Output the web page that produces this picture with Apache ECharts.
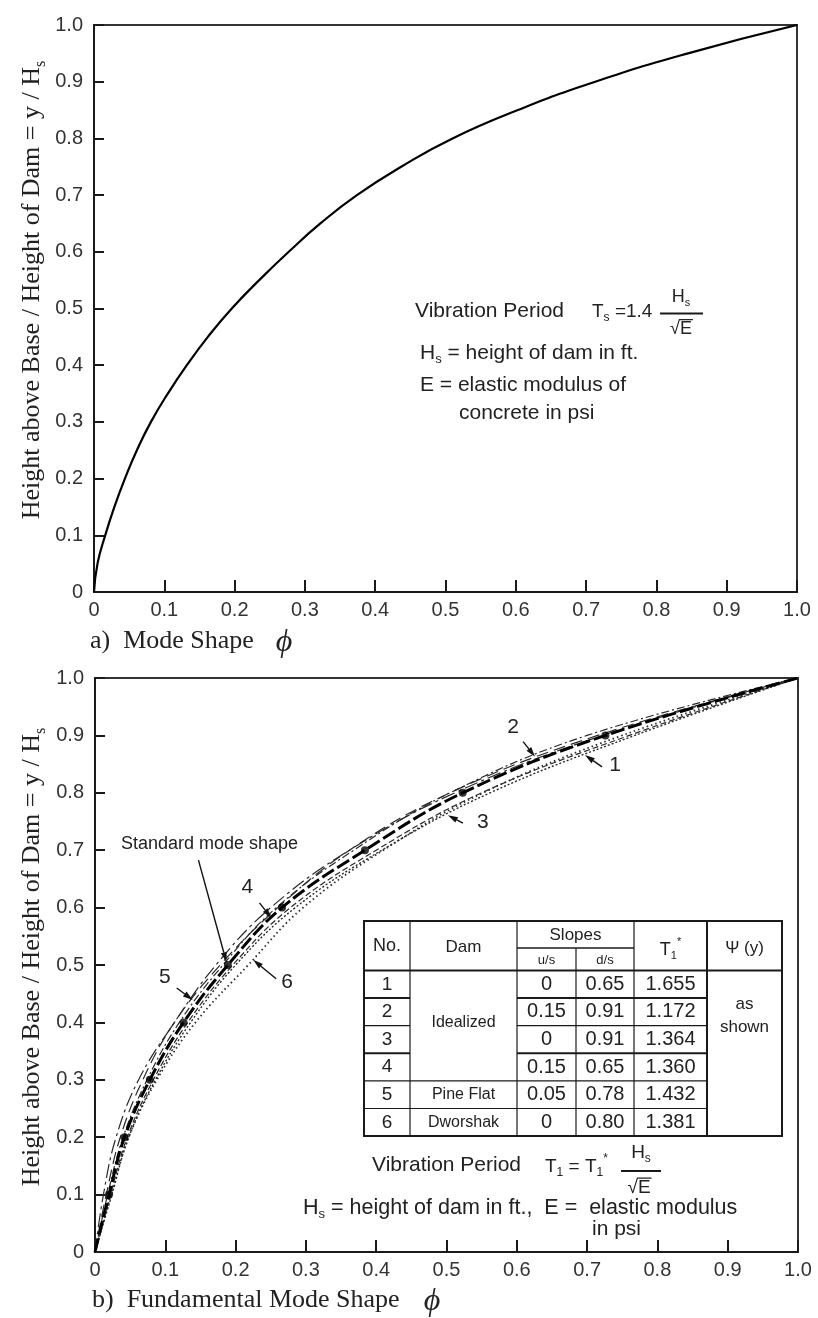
<!DOCTYPE html>
<html><head><meta charset="utf-8">
<script src="https://cdn.jsdelivr.net/npm/echarts@6/dist/echarts.min.js"></script>
<style>html,body{margin:0;padding:0;background:#fff}#c{width:818px;height:1318px}</style>
</head><body><div id="c"></div>
<script>
// ---------------- data ----------------
const tickLabels = ['0','0.1','0.2','0.3','0.4','0.5','0.6','0.7','0.8','0.9','1.0'];

// (a) standard mode shape: phi read at height levels y/Hs
const topHeights   = [0, 0.05, 0.1, 0.15, 0.2, 0.25, 0.3, 0.35, 0.4, 0.45, 0.5, 0.55, 0.6, 0.65, 0.7, 0.75, 0.8, 0.85, 0.9, 0.95, 1.0];
const topModeShape = [0, 0.005, 0.016, 0.029, 0.044, 0.061, 0.081, 0.105, 0.132, 0.162, 0.196, 0.235, 0.277, 0.322, 0.374, 0.437, 0.51, 0.603, 0.713, 0.845, 1.0];

// (b) fundamental mode shapes: phi read at height levels y/Hs
const heights       = [0, 0.1, 0.2, 0.3, 0.4, 0.5, 0.6, 0.7, 0.8, 0.9, 1.0];
const standardShape = [0, 0.020, 0.042, 0.078, 0.126, 0.189, 0.266, 0.384, 0.523, 0.726, 1.0];
const curve1Shape   = [0, 0.022, 0.046, 0.083, 0.132, 0.196, 0.278, 0.400, 0.550, 0.760, 1.0];
const curve2Shape   = [0, 0.018, 0.040, 0.074, 0.120, 0.182, 0.258, 0.368, 0.505, 0.700, 1.0];
const curve3Shape   = [0, 0.024, 0.048, 0.086, 0.136, 0.200, 0.285, 0.408, 0.562, 0.768, 1.0];
const curve4Shape   = [0, 0.016, 0.036, 0.068, 0.113, 0.178, 0.260, 0.362, 0.505, 0.715, 1.0];
const curve5Shape   = [0, 0.012, 0.030, 0.062, 0.113, 0.172, 0.250, 0.362, 0.512, 0.722, 1.0];
const curve6Shape   = [0, 0.023, 0.048, 0.088, 0.143, 0.218, 0.296, 0.410, 0.552, 0.750, 1.0];

// table
const tableNo    = ['1','2','3','4','5','6'];
const tableDam   = ['Idealized','Pine Flat','Dworshak'];
const slopeUS    = ['0','0.15','0','0.15','0.05','0'];
const slopeDS    = ['0.65','0.91','0.91','0.65','0.78','0.80'];
const periodCoef = ['1.655','1.172','1.364','1.360','1.432','1.381'];

// curve call-outs: label, point on curve [phi, y]
const callouts = [
  {label:'1', at:[0.697, 0.866]},
  {label:'2', at:[0.626, 0.863]},
  {label:'3', at:[0.502, 0.761]},
  {label:'4', at:[0.251, 0.582]},
  {label:'5', at:[0.139, 0.439]},
  {label:'6', at:[0.225, 0.509]},
  {label:'Standard mode shape', at:[0.187, 0.505]}
];

// ---------------- styles ----------------
const SANS = "'Liberation Sans',Arial,sans-serif";
const SERIF = "'Liberation Serif','Times New Roman',serif";
const INK = '#1a1a1a';
const TXT = '#222';

function pairs(xs, ys){ return ys.map((y,i)=>[xs[i], y]); }

function axisX(gi){
  return {type:'value', gridIndex:gi, min:0, max:1, interval:0.1,
    axisLine:{show:true, onZero:false, lineStyle:{color:INK, width:2}},
    axisTick:{show:true, inside:true, length:12, lineStyle:{color:INK, width:2}},
    axisLabel:{show:true, margin:8, color:'#333', fontFamily:SANS, fontSize:20,
      showMinLabel:true, showMaxLabel:true,
      formatter:v=>tickLabels[Math.round(v*10)]},
    splitLine:{show:false}};
}
function axisY(gi){
  return {type:'value', gridIndex:gi, min:0, max:1, interval:0.1,
    axisLine:{show:true, onZero:false, lineStyle:{color:INK, width:2}},
    axisTick:{show:true, inside:true, length:10, lineStyle:{color:INK, width:2}},
    axisLabel:{show:true, margin:11, color:'#333', fontFamily:SANS, fontSize:20,
      showMinLabel:true, showMaxLabel:true,
      formatter:v=>tickLabels[Math.round(v*10)]},
    splitLine:{show:false}};
}
function thin(name, shape, dash, width){
  return {name, type:'line', xAxisIndex:1, yAxisIndex:1, data:pairs(shape, heights),
    smooth:0.4, symbol:'none',
    lineStyle:{color:'#2a2a2a', width:width||1.2, type:dash}, z:3};
}

const chart = echarts.init(document.getElementById('c'), null, {renderer:'canvas'});
chart.setOption({
  animation:false,
  backgroundColor:'#fff',
  grid:[
    {left:94, top:25, width:703, height:567, show:true, borderColor:'#333', borderWidth:2, backgroundColor:'transparent'},
    {left:95, top:678, width:703, height:574, show:true, borderColor:'#333', borderWidth:2, backgroundColor:'transparent'}
  ],
  xAxis:[axisX(0), axisX(1)],
  yAxis:[axisY(0), axisY(1)],
  series:[
    {name:'Mode shape', type:'line', xAxisIndex:0, yAxisIndex:0, data:pairs(topModeShape, topHeights),
      smooth:0.5, symbol:'none', lineStyle:{color:'#000', width:2.2}},
    thin('1', curve1Shape, [6,3], 1.2),
    thin('2', curve2Shape, [8,3,2,3], 1.2),
    thin('3', curve3Shape, [2,2], 1.4),
    thin('4', curve4Shape, [12,6], 1.2),
    thin('5', curve5Shape, [14,4,3,4], 1.2),
    thin('6', curve6Shape, [1.5,3], 1.8),
    {name:'Standard', type:'line', xAxisIndex:1, yAxisIndex:1, data:pairs(standardShape, heights),
      smooth:0.4, symbol:'none', lineStyle:{color:'#000', width:3, type:[14,4]}, z:4},
    {name:'Standard points', type:'scatter', xAxisIndex:1, yAxisIndex:1,
      data:pairs(standardShape, heights).slice(1, heights.length-1),
      symbol:'circle', symbolSize:8, itemStyle:{color:'#000'}, z:5}
  ]
});

// ---------------- annotations ----------------
const G = [];
const mctx = document.createElement('canvas').getContext('2d');
function measure(t, fs, font, italic){
  mctx.font = (italic?'italic ':'') + fs + 'px ' + font;
  return mctx.measureText(t).width;
}
// text run with {sub|..} and {sup|..} pieces
function txt(x, y, text, o){
  o = o || {};
  const fs = o.size || 20, font = o.font || SANS, col = o.color || TXT;
  const segs = [];
  const re = /\{(sub|sup)\|([^}]*)\}|([^{]+)/g; let m;
  while((m = re.exec(text))){
    if(m[3] !== undefined) segs.push({t:m[3], k:'m'}); else segs.push({t:m[2], k:m[1]});
  }
  let W = 0;
  segs.forEach(s=>{ s.fs = s.k==='m' ? fs : Math.round(fs*0.62); s.w = measure(s.t, s.fs, font, o.italic); s.x = W; W += s.w; });
  const x0 = o.align==='center' ? -W/2 : (o.align==='right' ? -W : 0);
  const children = segs.map(s=>({type:'text', z:60, x:x0+s.x,
    y: s.k==='sub' ? fs*0.32 : (s.k==='sup' ? -fs*0.42 : 0),
    style:{text:s.t, fontSize:s.fs, fontFamily:font, fill:col, align:'left', verticalAlign:'middle',
      fontStyle:o.italic?'italic':'normal'}}));
  G.push({type:'group', x, y, rotation:o.rot||0, z:60, silent:true, children});
  return {x0:x+x0, segs, W};
}
function line(x1,y1,x2,y2,w,c){
  G.push({type:'line', z:55, silent:true, shape:{x1,y1,x2,y2}, style:{stroke:c||INK, lineWidth:w||1}});
}
function arrow(x1,y1,x2,y2){
  const a = Math.atan2(y2-y1, x2-x1), L = 10, W = 3;
  const bx = x2 - L*Math.cos(a), by = y2 - L*Math.sin(a);
  const px = -Math.sin(a)*W, py = Math.cos(a)*W;
  line(x1,y1,bx,by,1.4,'#111');
  G.push({type:'polygon', z:56, silent:true, shape:{points:[[x2,y2],[bx+px,by+py],[bx-px,by-py]]}, style:{fill:'#111'}});
}
function sqrtE(cx, cy, fs){
  const r = txt(cx, cy, '√E', {size:fs, align:'center'});
  const wRoot = measure('√', fs, SANS);
  line(r.x0 + wRoot - 1, cy - fs*0.52, r.x0 + r.W + 1, cy - fs*0.52, 1.2);
}

// axis titles
const yTitle = 'Height above Base / Height of Dam = y / H{sub|s}';
txt(32, 290, yTitle, {size:26, font:SERIF, align:'center', rot:Math.PI/2});
txt(32, 957, yTitle, {size:26, font:SERIF, align:'center', rot:Math.PI/2});
txt(90, 641, 'a)  Mode Shape', {size:26, font:SERIF});
txt(284, 643, 'ϕ', {size:32, font:SERIF, align:'center', italic:true});
txt(92, 1300, 'b)  Fundamental Mode Shape', {size:26, font:SERIF});
txt(432, 1302, 'ϕ', {size:32, font:SERIF, align:'center', italic:true});

// (a) period note
txt(415, 311, 'Vibration Period', {size:21});
txt(592, 312, 'T{sub|s} =1.4', {size:19});
txt(681, 297, 'H{sub|s}', {size:18, align:'center'});
line(660, 313.5, 703, 313.5, 2);
sqrtE(681, 329, 18);
txt(420, 353, 'H{sub|s} = height of dam in ft.', {size:21});
txt(420, 385, 'E = elastic modulus of', {size:21});
txt(459, 413, 'concrete in psi', {size:21});

// (b) period note
txt(372, 1165, 'Vibration Period', {size:21});
txt(545, 1167, 'T{sub|1} = T{sub|1}{sup|*}', {size:19});
txt(641, 1153, 'H{sub|s}', {size:19, align:'center'});
line(621, 1171, 661, 1171, 2);
sqrtE(639, 1188, 19);
txt(303, 1208, 'H{sub|s} = height of dam in ft.,  E =  elastic modulus', {size:21.5});
txt(592, 1229, 'in psi', {size:21});

// table
const cx = [364, 410, 517, 576, 634, 707, 782];
const yTop = 921, ySplit = 948, yHead = 970.5, rowH = 27.6;
const ry = i => yHead + i*rowH;
G.push({type:'rect', z:50, silent:true, shape:{x:cx[0], y:yTop, width:cx[6]-cx[0], height:ry(6)-yTop}, style:{fill:'#fff', stroke:INK, lineWidth:2}});
[1,2,4,5].forEach(k=>line(cx[k], yTop, cx[k], ry(6), k===5?2:1.2));
line(cx[3], ySplit, cx[3], ry(6), 1.2);
line(cx[2], ySplit, cx[4], ySplit, 1.5);
line(cx[0], yHead, cx[6], yHead, 2);
for(let i=1;i<6;i++){
  const thick = (i===1 || i===3) ? 2 : 1.2;
  line(cx[0], ry(i), cx[1], ry(i), thick);
  line(cx[2], ry(i), cx[5], ry(i), thick);
  if(i>=4) line(cx[1], ry(i), cx[2], ry(i), 1.2);
}
const mid = (a,b)=>(a+b)/2;
txt(mid(cx[0],cx[1]), 946, 'No.', {size:18, align:'center'});
txt(mid(cx[1],cx[2]), 947, 'Dam', {size:17, align:'center'});
txt(mid(cx[2],cx[4]), 935, 'Slopes', {size:17, align:'center'});
txt(mid(cx[2],cx[3]), 960, 'u/s', {size:13, align:'center'});
txt(mid(cx[3],cx[4]), 960, 'd/s', {size:13, align:'center'});
txt(mid(cx[4],cx[5]), 950, 'T{sub|1}{sup|*}', {size:18, align:'center'});
txt(mid(cx[5],cx[6]), 948, 'Ψ (y)', {size:17, align:'center'});
for(let i=0;i<6;i++){
  const yc = mid(ry(i), ry(i+1));
  txt(mid(cx[0],cx[1]), yc, tableNo[i], {size:19, align:'center'});
  txt(mid(cx[2],cx[3]), yc, slopeUS[i], {size:20, align:'center'});
  txt(mid(cx[3],cx[4]), yc, slopeDS[i], {size:20, align:'center'});
  txt(mid(cx[4],cx[5]), yc, periodCoef[i], {size:20, align:'center'});
}
txt(mid(cx[1],cx[2]), 1023, tableDam[0], {size:16, align:'center'});
txt(mid(cx[1],cx[2]), mid(ry(4),ry(5)), tableDam[1], {size:16, align:'center'});
txt(mid(cx[1],cx[2]), mid(ry(5),ry(6)), tableDam[2], {size:16, align:'center'});
txt(mid(cx[5],cx[6]), 1004, 'as', {size:17, align:'center'});
txt(mid(cx[5],cx[6]), 1027, 'shown', {size:17, align:'center'});

// call-outs (tips tied to the bottom chart's scales)
const tailOff = {'1':[17,12], '2':[-12,-15], '3':[15,8], '4':[-12,-15], '5':[-16,-12], '6':[23,19], 'Standard mode shape':[-28,-102]};
const labOff  = {'1':[30,10], '2':[-22,-29], '3':[35,7], '4':[-24,-31], '5':[-28,-23], '6':[34,22], 'Standard mode shape':[-17,-118]};
callouts.forEach(c=>{
  const p = chart.convertToPixel({gridIndex:1}, c.at);
  const t = tailOff[c.label], l = labOff[c.label];
  arrow(p[0]+t[0], p[1]+t[1], p[0], p[1]);
  const isStd = c.label.length > 1;
  txt(p[0]+l[0], p[1]+l[1], c.label, {size:isStd?18:21, align:'center'});
});

chart.setOption({graphic:G});
</script>
</body></html>
